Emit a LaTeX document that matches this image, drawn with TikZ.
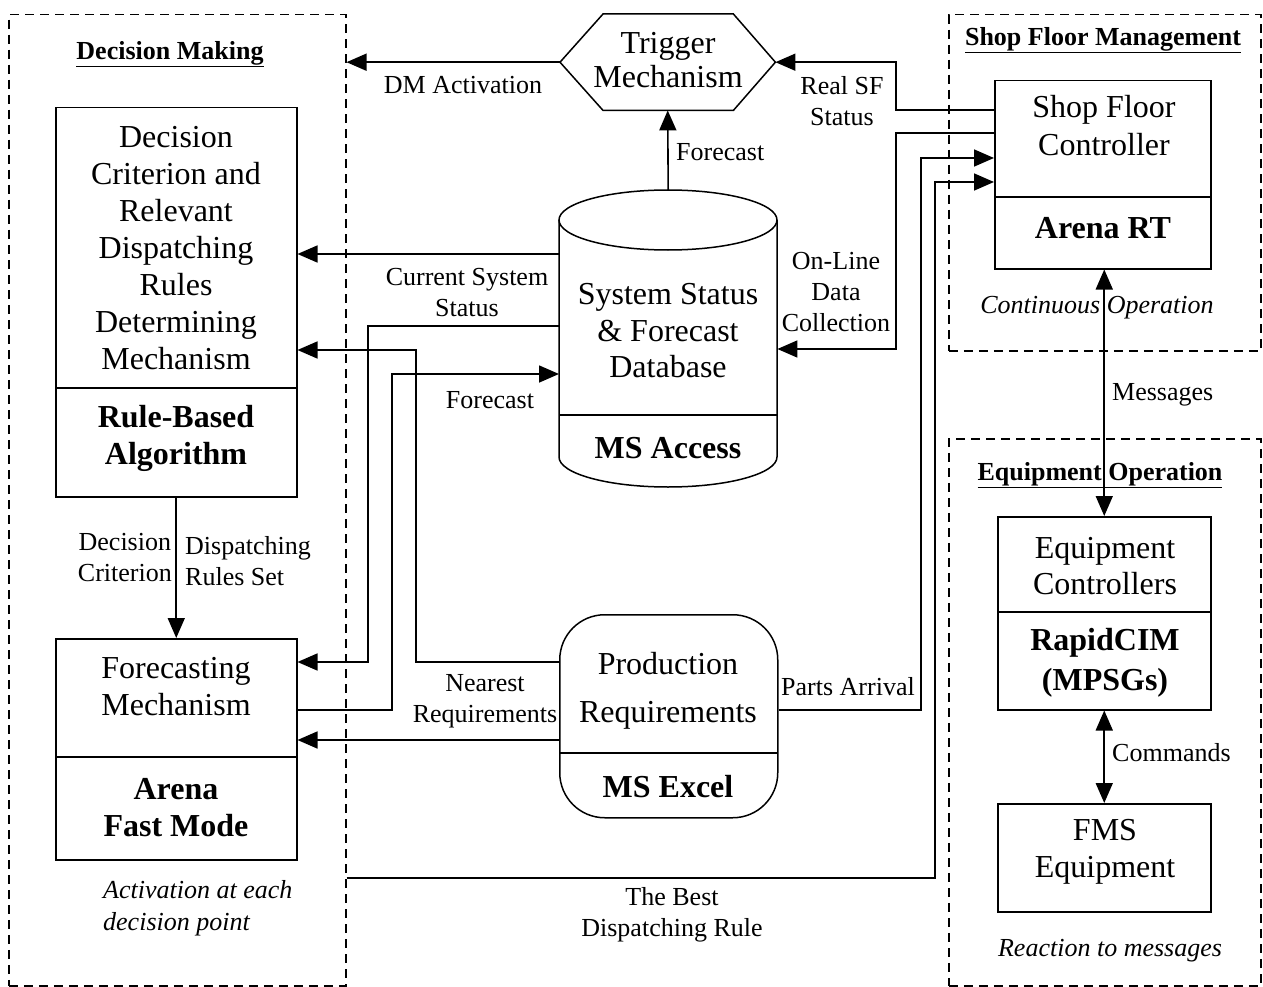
\documentclass[tikz,border=0pt]{standalone}
\usepackage{fontspec}
\setmainfont{Liberation Serif}
\usetikzlibrary{arrows.meta,calc}
\begin{document}
\begin{tikzpicture}[x=1pt,y=-1pt,
  box/.style={draw, line width=1.5pt, anchor=north west, inner sep=0pt},
  ghost/.style={anchor=north west, inner sep=0pt},
  grp/.style={draw, line width=1.5pt, dash pattern=on 9pt off 6pt, anchor=north west, inner sep=0pt},
  conn/.style={line width=1.6pt},
  arr/.style={conn, -{Triangle[length=20pt,width=17pt]}},
  darr/.style={conn, {Triangle[length=20pt,width=17pt]}-{Triangle[length=20pt,width=17pt]}},
  big/.style={font=\fontsize{32}{37}\selectfont, align=center, inner sep=0pt},
  bigb/.style={font=\fontsize{32}{37}\selectfont\bfseries, align=center, inner sep=0pt},
  lab/.style={font=\fontsize{26}{31}\selectfont, align=center, inner sep=0pt},
  labi/.style={font=\fontsize{26}{32}\selectfont\itshape, align=center, inner sep=0pt},
  ttl/.style={font=\fontsize{26}{31}\selectfont\bfseries, inner sep=0pt},
  divl/.style={line width=1.5pt}
]
\useasboundingbox (0,0) rectangle (1263,987);

% group frames
\node[grp, minimum width=337pt, minimum height=971pt] (dm) at (8,14) {};
\node[grp, minimum width=312pt, minimum height=336pt] (sfm) at (948,14) {};
\node[grp, minimum width=312pt, minimum height=547pt] (eo) at (948,438) {};

\node[ttl] (dmt) at (170,54) {\underline{Decision Making}};
\node[ttl] (sfmt) at (1103,40) {\underline{Shop Floor Management}};
\node[ttl] (eot) at (1100,475) {\underline{Equipment Operation}};

% decision making boxes
\node[box, minimum width=241pt, minimum height=389pt] (rb) at (55,107) {};
\draw[divl] ([yshift=-281pt]rb.north west) -- ([yshift=-281pt]rb.north east);
\node[big] (rbt) at (176,248) {Decision\\Criterion and\\Relevant\\Dispatching\\Rules\\Determining\\Mechanism};
\node[bigb] (rbb) at (176,438) {Rule-Based\\Algorithm};

\node[box, minimum width=241pt, minimum height=221pt] (fm) at (55,638) {};
\draw[divl] ([yshift=-119pt]fm.north west) -- ([yshift=-119pt]fm.north east);
\node[big] (fmt) at (176,687) {Forecasting\\Mechanism};
\node[bigb] (fmb) at (176,808) {Arena\\Fast Mode};

\node[labi, align=left, anchor=west] (act) at (103,908) {Activation at each\\decision point};

% trigger mechanism
\node[ghost, minimum width=215pt, minimum height=96pt] (tm) at (560,14) {};
\draw[line width=1.5pt] (tm.west) -- ([xshift=43pt]tm.north west) -- ([xshift=-42pt]tm.north east) -- (tm.east) -- ([xshift=-42pt]tm.south east) -- ([xshift=43pt]tm.south west) -- cycle;
\node[big, font=\fontsize{32}{34}\selectfont] (tmt) at (668,60) {Trigger\\Mechanism};

% database
\node[ghost, minimum width=218pt, minimum height=297pt] (db) at (559,190) {};
\draw[line width=1.5pt] (559,220) -- (559,457) arc[start angle=180,end angle=0,x radius=109,y radius=30] -- (777,220);
\draw[line width=1.5pt] (668,220) ellipse[x radius=109,y radius=30];
\draw[divl] (559,415) -- (777,415);
\node[big, font=\fontsize{32}{36.5}\selectfont] (dbt) at (668,331) {System Status\\\& Forecast\\Database};
\node[bigb] (dbb) at (668,448) {MS Access};

% production requirements
\node[box, rounded corners=45pt, minimum width=218pt, minimum height=203pt] (pr) at (559,614) {};
\draw[divl] (559,753) -- (777,753);
\node[big, font=\fontsize{32}{48}\selectfont] (prt) at (668,691) {Production\\Requirements};
\node[bigb] (prb) at (668,787) {MS Excel};

% shop floor controller
\node[box, minimum width=216pt, minimum height=188pt] (sfc) at (994,80) {};
\draw[divl] ([yshift=-117pt]sfc.north west) -- ([yshift=-117pt]sfc.north east);
\node[big, font=\fontsize{32}{38}\selectfont] (sfct) at (1104,126) {Shop Floor\\Controller};
\node[bigb] (sfcb) at (1103,228) {Arena RT};
\node[labi] (cont) at (1097,308) {Continuous Operation};

% equipment controllers
\node[box, minimum width=213pt, minimum height=193pt] (ec) at (997,516) {};
\draw[divl] ([yshift=-96pt]ec.north west) -- ([yshift=-96pt]ec.north east);
\node[big, font=\fontsize{32}{36}\selectfont] (ect) at (1105,566) {Equipment\\Controllers};
\node[bigb, font=\fontsize{32}{40}\selectfont\bfseries] (ecb) at (1105,663) {RapidCIM\\(MPSGs)};

% FMS equipment
\node[box, minimum width=213pt, minimum height=108pt] (fms) at (997,803) {};
\node[big] (fmst) at (1105,852) {FMS\\Equipment};
\node[labi] (react) at (1110,951) {Reaction to messages};

% bend points
\coordinate (a1) at (896,110);
\coordinate (b2) at (368,326);
\coordinate (p2) at (368,662);
\coordinate (b3) at (416,662);
\coordinate (b3u) at (416,350);
\coordinate (b4) at (392,710);
\coordinate (b4u) at (392,374);
\coordinate (y254) at (0,254);
\coordinate (y740) at (0,740);
\coordinate (b6) at (921,710);
\coordinate (b6u) at (921,158);
\coordinate (b7) at (935,878);
\coordinate (b7u) at (935,182);
\coordinate (b8) at (896,133);
\coordinate (b8d) at (896,349);

% connectors
\draw[arr] (tm.west) -- (dm.east |- tm.west);
\node[lab] (l1) at (463,85) {DM Activation};
\draw[arr] (sfc.west |- a1) -- (a1) |- (tm.east);
\node[lab] (l2) at (842,101) {Real SF\\Status};
\draw[arr] (db.north) -- (tm.south);
\node[lab, anchor=west] (l3) at (676,152) {Forecast};
\draw[arr] (db.west |- y254) -- (rb.east |- y254);
\node[lab] (l4) at (467,293) {Current System\\Status};
\draw[arr] (db.west |- b2) -- (b2) -- (p2) -- (fm.east |- p2);
\draw[arr] (pr.west |- b3) -- (b3) -- (b3u) -- (rb.east |- b3u);
\draw[arr] (fm.east |- b4) -- (b4) -- (b4u) -- (db.west |- b4u);
\node[lab] (l5) at (490,400) {Forecast};
\draw[arr] (pr.west |- y740) -- (fm.east |- y740);
\node[lab] (l6) at (485,701) {Nearest\\Requirements};
\draw[arr] (pr.east |- b6) -- (b6) -- (b6u) -- (sfc.west |- b6u);
\node[lab] (l7) at (848,687) {Parts Arrival};
\draw[arr] (dm.east |- b7) -- (b7) -- (b7u) -- (sfc.west |- b7u);
\node[lab] (l8) at (672,915) {The Best\\Dispatching Rule};
\draw[arr] (sfc.west |- b8) -- (b8) -- (b8d) -- (db.east |- b8d);
\node[lab] (l9) at (836,292) {On-Line\\Data\\Collection};
\draw[arr] (rb.south) -- (fm.north);
\node[lab, anchor=east] (l10) at (172,558) {Decision\\Criterion};
\node[lab, anchor=west, align=left] (l11) at (185,561) {Dispatching\\Rules Set};
\draw[darr] (sfc.south -| ec.north) -- (ec.north);
\node[lab, anchor=west] (l12) at (1112,395) {Messages};
\draw[darr] (ec.south) -- (fms.north);
\node[lab, anchor=west] (l13) at (1112,753) {Commands};
\end{tikzpicture}
\end{document}
